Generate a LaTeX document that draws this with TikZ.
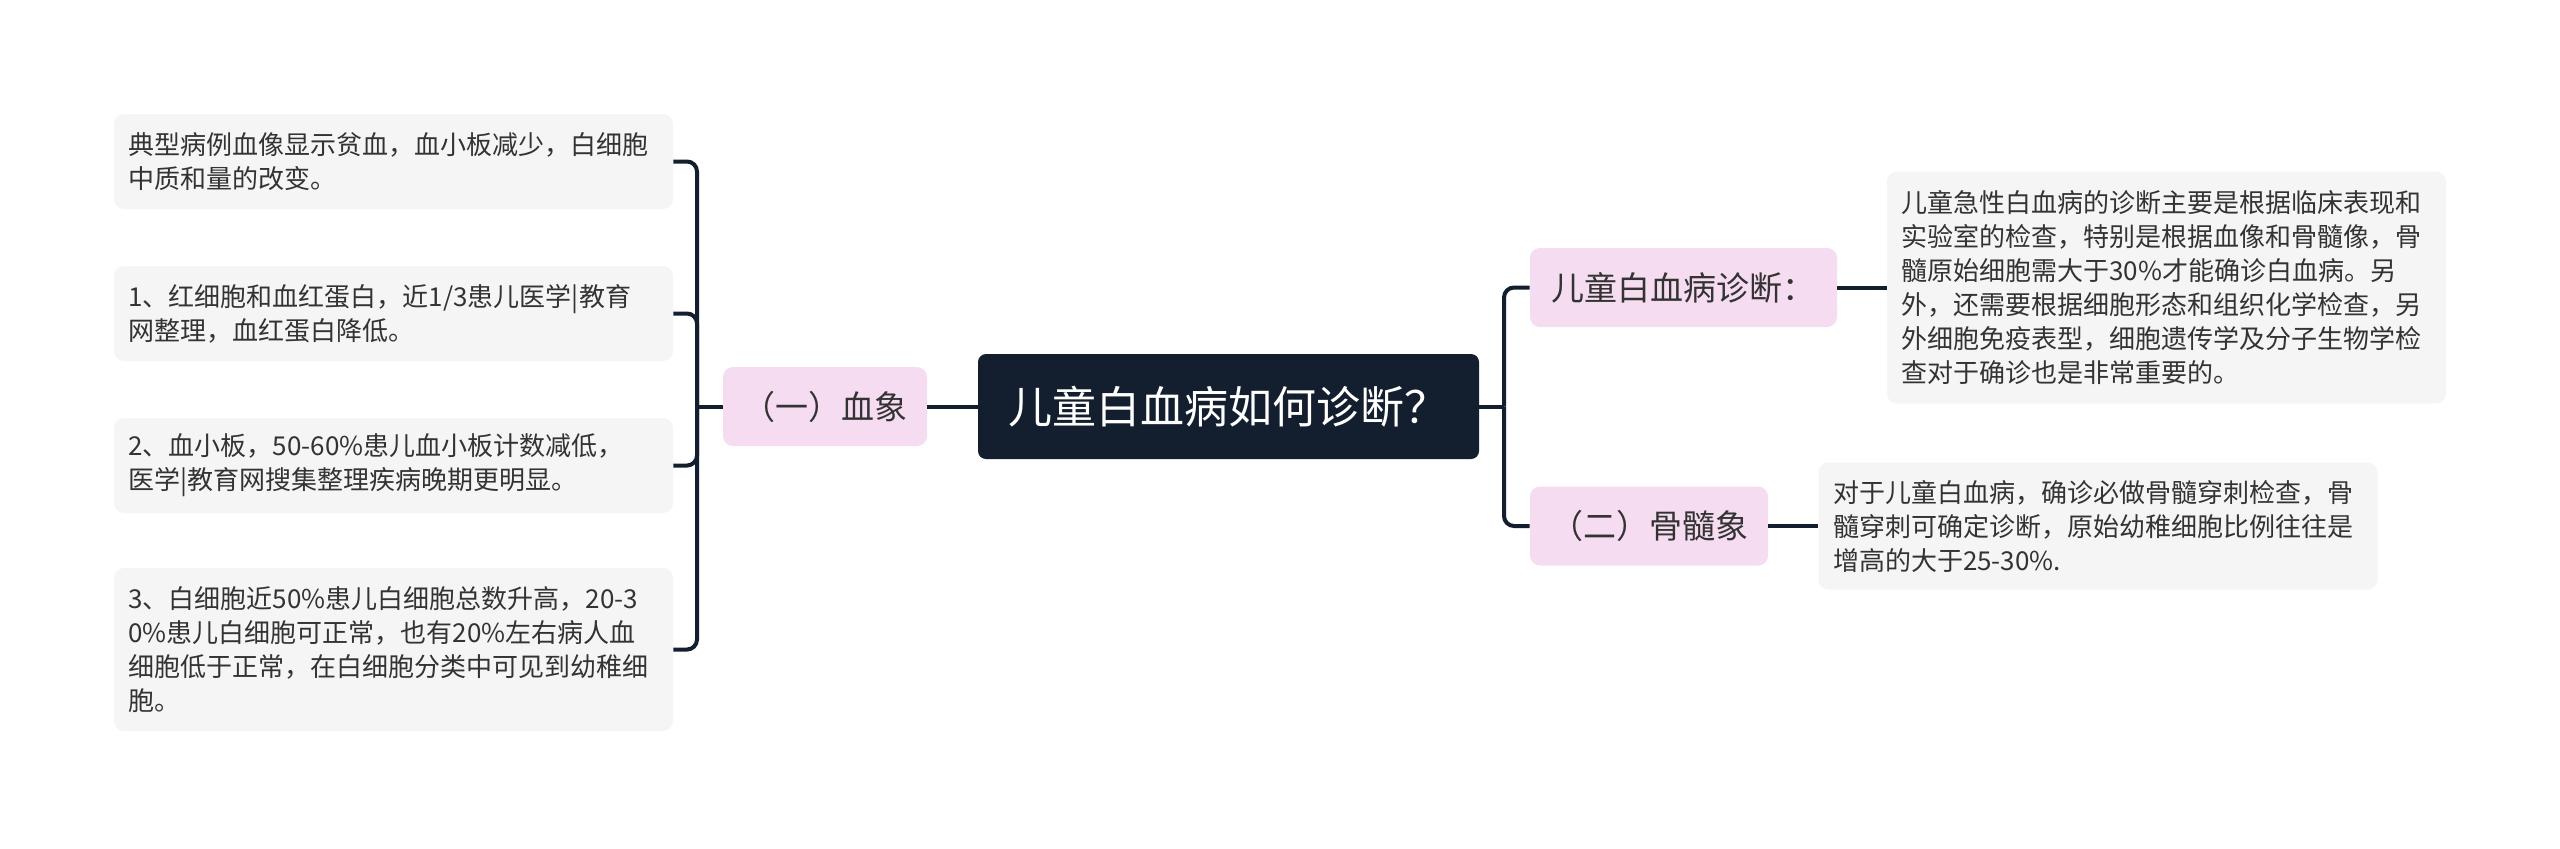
\documentclass[tikz,border=0pt]{standalone}
\usepackage{fontspec}
\newfontfamily\cjk{Noto Sans CJK SC}
\definecolor{rootblue}{HTML}{131F2E}
\definecolor{topicpink}{HTML}{F6DCF0}
\definecolor{leafgray}{HTML}{F5F5F5}
\definecolor{inkgray}{HTML}{333333}
\begin{document}
\begin{tikzpicture}[x=0.5pt, y=-0.5pt,
    link/.style={draw=rootblue, line width=2pt, rounded corners=5pt},
    rootbox/.style={fill=rootblue, text=white, rounded corners=4pt, inner sep=0pt,
      font=\cjk\fontsize{22}{26}\selectfont, minimum width=250.5pt, minimum height=52.5pt},
    topic/.style={fill=topicpink, text=inkgray, rounded corners=5pt, inner sep=0pt,
      font=\cjk\fontsize{16.5}{20}\selectfont, minimum height=39.5pt},
    leaf/.style={fill=leafgray, text=inkgray, rounded corners=5pt, align=left,
      text width=265pt, inner xsep=7.25pt, inner ysep=0pt,
      font=\cjk\fontsize{13}{17}\selectfont}]
  \useasboundingbox[fill=white] (0,0) rectangle (2560,848);
  \node[rootbox] (root) at (1228.5,406.5) {儿童白血病如何诊断？};
  \node[topic, minimum width=102pt] (xue) at (825,406.5) {（一）血象};
  \node[topic, minimum width=153.5pt] (zd) at (1683.5,287.5) {儿童白血病诊断：};
  \node[topic, minimum width=119pt] (gs) at (1649,526) {（二）骨髓象};
  \node[leaf, minimum height=47.5pt] (l1) at (393.5,161.5)
    {典型病例血像显示贫血，血小板减少，白细胞\\中质和量的改变。};
  \node[leaf, minimum height=47.5pt] (l2) at (393.5,313.5)
    {1、红细胞和血红蛋白，近1/3患儿医学|教育\\网整理，血红蛋白降低。};
  \node[leaf, minimum height=47.5pt] (l3) at (393.5,465.5)
    {2、血小板，50-60\%患儿血小板计数减低，\\医学|教育网搜集整理疾病晚期更明显。};
  \node[leaf, minimum height=81.5pt] (l4) at (393.5,649.5)
    {3、白细胞近50\%患儿白细胞总数升高，20-3\\0\%患儿白细胞可正常，也有20\%左右病人血\\细胞低于正常，在白细胞分类中可见到幼稚细\\胞。};
  \node[leaf, minimum height=116pt] (r1) at (2166.5,287.5)
    {儿童急性白血病的诊断主要是根据临床表现和\\实验室的检查，特别是根据血像和骨髓像，骨\\髓原始细胞需大于30\%才能确诊白血病。另\\外，还需要根据细胞形态和组织化学检查，另\\外细胞免疫表型，细胞遗传学及分子生物学检\\查对于确诊也是非常重要的。};
  \node[leaf, minimum height=63.5pt] (r2) at (2098,526)
    {对于儿童白血病，确诊必做骨髓穿刺检查，骨\\髓穿刺可确定诊断，原始幼稚细胞比例往往是\\增高的大于25-30\%.};
  \coordinate (lb) at (697,406.5);
  \coordinate (rb) at (1504,406.5);
  \draw[link] (root.west) -- (xue.east);
  \draw[link] (xue.west) -- (lb);
  \foreach \n in {l1,l2,l3,l4}
    \draw[link] (lb) |- (\n.east);
  \draw[link] (root.east) -- (rb);
  \draw[link] (rb) |- (zd.west);
  \draw[link] (rb) |- (gs.west);
  \draw[link] (zd.east) -- (r1.west);
  \draw[link] (gs.east) -- (r2.west);
\end{tikzpicture}
\end{document}
